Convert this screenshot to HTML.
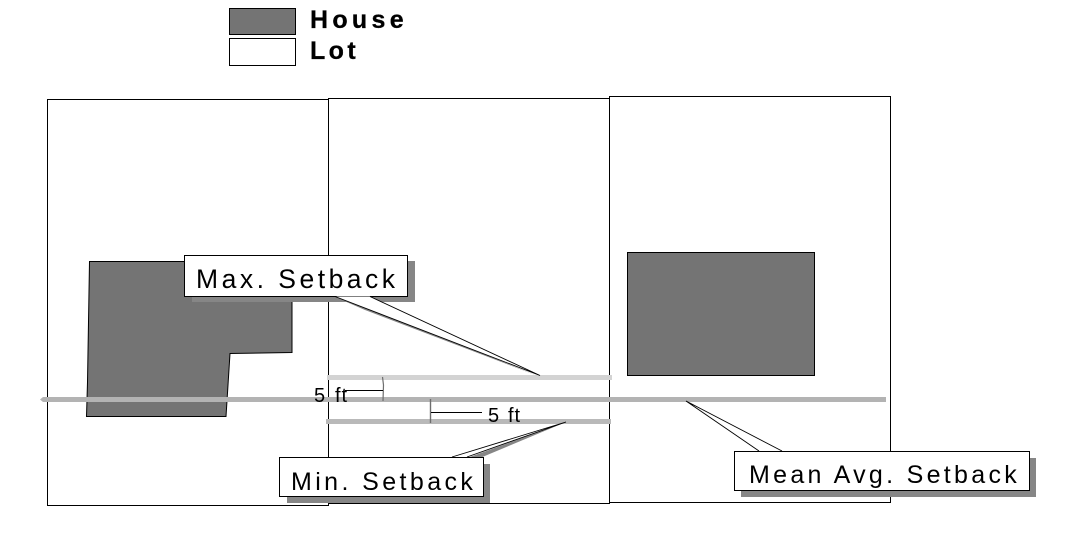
<!DOCTYPE html>
<html>
<head>
<meta charset="utf-8">
<style>
html,body{margin:0;padding:0;background:#fff;width:1070px;height:548px;overflow:hidden}
svg{display:block;position:absolute;left:0;top:0}
text{font-family:"Liberation Sans",Arial,sans-serif;fill:#000}
</style>
</head>
<body>
<svg width="1070" height="548" viewBox="0 0 1070 548" xmlns="http://www.w3.org/2000/svg">
<!-- Legend -->
<rect x="229.5" y="8.5" width="66" height="26" fill="#747474" stroke="#000"/>
<rect x="229.5" y="38.5" width="66" height="27" fill="#fff" stroke="#000"/>
<text x="310" y="28" font-size="25" font-weight="bold" letter-spacing="4.3" stroke="#000" stroke-width="0.3">House</text>
<text x="310" y="59" font-size="25" font-weight="bold" letter-spacing="3.4" stroke="#000" stroke-width="0.3">Lot</text>
<!-- Lots -->
<rect x="47.5" y="99.5" width="281" height="406" fill="#fff" stroke="#000"/>
<rect x="328.5" y="98.5" width="281" height="405" fill="none" stroke="#000"/>
<rect x="609.5" y="96.5" width="281" height="406" fill="none" stroke="#000"/>
<!-- Houses -->
<polygon points="89.5,261.5 292,261.5 292,352.5 230,353.5 226,416.5 86.5,416.5 87.5,382" fill="#747474" stroke="#000"/>
<rect x="627.5" y="252.5" width="187" height="123" fill="#747474" stroke="#000"/>
<!-- Setback lines -->
<rect x="327" y="375" width="285" height="5" fill="#d3d3d3"/>
<polygon points="40,399.5 43,397 886,397 886,402 43,402" fill="#b3b3b3"/>
<rect x="326" y="419" width="285" height="5" fill="#b9b9b9"/>
<!-- Dimension marks -->
<path d="M382.5,377 L383.5,385 L383,401" fill="none" stroke="#6e6e6e" stroke-width="1.2"/>
<path d="M430.5,399 V423" fill="none" stroke="#6e6e6e" stroke-width="1.4"/>
<path d="M345,390.5 H383 M431,412.5 H482" fill="none" stroke="#000"/>
<text x="314" y="402" font-size="20">5</text>
<text x="335" y="402" font-size="20" letter-spacing="1">ft</text>
<text x="488" y="422" font-size="20">5</text>
<text x="508" y="422" font-size="20" letter-spacing="1">ft</text>
<!-- Max Setback callout -->
<polygon points="192,261 415,261 415,302 192,302" fill="#868686"/>
<polygon points="335,297 365,310 538,376 350,300" fill="#868686"/>
<rect x="184.5" y="255.5" width="223" height="41" fill="#fff" stroke="#000"/>
<polygon points="335,296.5 540,375.5 370,296.5" fill="#fff"/>
<path d="M335,296.5 L540,375.5 L370,296.5" fill="none" stroke="#000" stroke-width="0.9"/>
<text x="196" y="288" font-size="26.5" letter-spacing="3.5">Max. Setback</text>
<!-- Min Setback callout -->
<polygon points="287,464 490,464 490,503 287,503" fill="#868686"/>
<polygon points="480,458 566,422 467,458" fill="#868686"/>
<rect x="279.5" y="457.5" width="204" height="39" fill="#fff" stroke="#000"/>
<polygon points="452,457 566,422 467,457" fill="#fff"/>
<path d="M452,457 L566,422 L467,457" fill="none" stroke="#000" stroke-width="0.9"/>
<text x="291" y="490" font-size="25" letter-spacing="3.4">Min. Setback</text>
<!-- Mean Avg Setback callout -->
<rect x="741" y="458" width="295" height="39" fill="#868686"/>
<rect x="734.5" y="451.5" width="295" height="39" fill="#fff" stroke="#000"/>
<polygon points="759,451 686,401 782,451" fill="#fff"/>
<path d="M759,451 L686,401 L782,451" fill="none" stroke="#000" stroke-width="0.9"/>
<text x="749" y="483" font-size="25" letter-spacing="3.3">Mean Avg. Setback</text>
</svg>
</body>
</html>
